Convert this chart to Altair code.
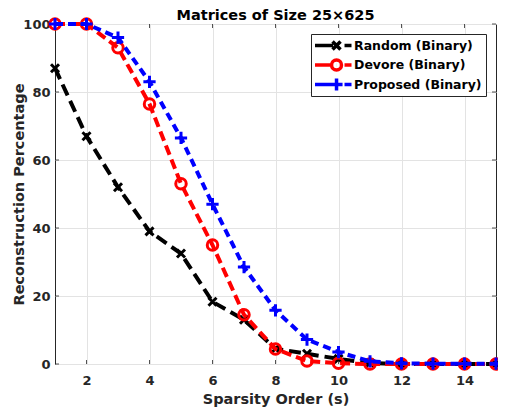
import altair as alt
import pandas as pd

# ---- data ----
sparsity = list(range(1, 16))
random_bin = [87, 67, 52, 39, 32.5, 18.3, 13, 4.5, 3, 1.5, 0.3, 0, 0, 0, 0]
devore_bin = [100, 100, 93, 76.5, 53, 35, 14.5, 4.4, 0.9, 0.2, 0, 0, 0, 0, 0]
proposed_bin = [100, 100, 96, 83, 66.5, 47, 28.5, 15.8, 7.2, 3.5, 0.8, 0.2, 0.1, 0.1, 0.1]
series_names = ["Random (Binary)", "Devore (Binary)", "Proposed (Binary)"]
series_colors = ["#000000", "#ff0000", "#0000ff"]
x_ticks = [2, 4, 6, 8, 10, 12, 14]
y_ticks = [0, 20, 40, 60, 80, 100]

W, H = 441, 340
FONT = "DejaVu Sans"
TXT = "#262626"

values = [random_bin, devore_bin, proposed_bin]
rows = []
for name, vals in zip(series_names, values):
    for s, v in zip(sparsity, vals):
        rows.append({"s": s, "value": v, "series": name})
df = pd.DataFrame(rows)

xs = alt.Scale(domain=[1, 15], nice=False)
ys = alt.Scale(domain=[0, 100], nice=False)

x_enc = alt.X("s:Q", scale=xs, title="Sparsity Order (s)",
              axis=alt.Axis(values=x_ticks, grid=True))
y_enc = alt.Y("value:Q", scale=ys, title="Reconstruction Percentage",
              axis=alt.Axis(values=y_ticks, grid=True))

marker_paths = [
    "M-1,-1L1,1M1,-1L-1,1",
    "circle",
    "M0,-1V1M-1,0H1",
]
marker_sizes = [64, 110, 150]
dashes = [[12, 6], [10, 5], [8, 5]]

# legend symbols: long line, marker, short dash (units of 7px)
legend_paths = [
    "M-3.07,0H0.3M0.22,-0.57L1.36,0.57M1.36,-0.57L0.22,0.57M1.93,0H2.93",
    "M-3.07,0H0.08M1.5,0A0.71,0.71 0 1,1 0.08,0A0.71,0.71 0 1,1 1.5,0M0.79,0H0.8M1.93,0H2.93",
    "M-3.07,0H1.65M0.79,-0.86V0.86M1.93,0H2.93",
]

layers = []
for name, col, shp, sz, dash in zip(series_names, series_colors, marker_paths, marker_sizes, dashes):
    sub = df[df.series == name]
    line = alt.Chart(sub).mark_line(color=col, strokeWidth=4, strokeDash=dash).encode(x=x_enc, y=y_enc)
    pts = alt.Chart(sub).mark_point(shape=shp, color=col, size=sz, strokeWidth=3,
                                     filled=False, opacity=1).encode(x=x_enc, y=y_enc)
    layers += [line, pts]

tick_df_x = pd.DataFrame({"t": x_ticks})
tick_df_y = pd.DataFrame({"t": y_ticks})
tick_style = dict(color=TXT, strokeWidth=0.8)
tb = alt.Chart(tick_df_x).mark_rule(**tick_style).encode(
    x=alt.X("t:Q", scale=xs), y=alt.value(H - 4), y2=alt.value(H))
tt = alt.Chart(tick_df_x).mark_rule(**tick_style).encode(
    x=alt.X("t:Q", scale=xs), y=alt.value(0), y2=alt.value(4))
tl = alt.Chart(tick_df_y).mark_rule(**tick_style).encode(
    y=alt.Y("t:Q", scale=ys), x=alt.value(0), x2=alt.value(4))
tr = alt.Chart(tick_df_y).mark_rule(**tick_style).encode(
    y=alt.Y("t:Q", scale=ys), x=alt.value(W - 4), x2=alt.value(W))

legend_layer = alt.Chart(df).mark_point(filled=False, opacity=0, strokeWidth=3.5).encode(
    x=x_enc, y=y_enc,
    color=alt.Color("series:N", scale=alt.Scale(domain=series_names, range=series_colors),
                    legend=alt.Legend(title=None, orient="none", legendX=256, legendY=10,
                                      symbolOpacity=1, symbolStrokeWidth=3.5, symbolSize=196,
                                      symbolOffset=7, labelOffset=14, clipHeight=15,
                                      labelFont=FONT, labelFontWeight="bold", labelFontSize=12.5,
                                      labelColor="#000000", rowPadding=4.5, padding=4,
                                      strokeColor=TXT, fillColor="#ffffff")),
    shape=alt.Shape("series:N", scale=alt.Scale(domain=series_names, range=legend_paths)),
)

chart = alt.layer(tb, tt, tl, tr, *layers, legend_layer).properties(
    width=W, height=H,
    title=alt.Title("Matrices of Size 25×625", font=FONT, fontSize=14.5, fontWeight="bold",
                    color="#000000", frame="group", offset=0, dy=12, anchor="middle"),
    autosize=alt.AutoSizeParams(type="none"),
    padding={"left": 47, "top": 16, "right": 2, "bottom": 46},
).configure_axis(
    domain=False, ticks=False, gridColor="#e3e3e3", gridWidth=1,
    labelFont=FONT, labelFontWeight="bold", labelFontSize=13, labelColor=TXT,
    titleFont=FONT, titleFontWeight="bold", titleFontSize=14.5, titleColor=TXT,
).configure_axisX(labelPadding=10, titlePadding=5).configure_axisY(
    labelPadding=5, titlePadding=-4
).configure_view(stroke=TXT, strokeWidth=1)

chart.save("out.html", embed_options={"renderer": "svg", "actions": False})
